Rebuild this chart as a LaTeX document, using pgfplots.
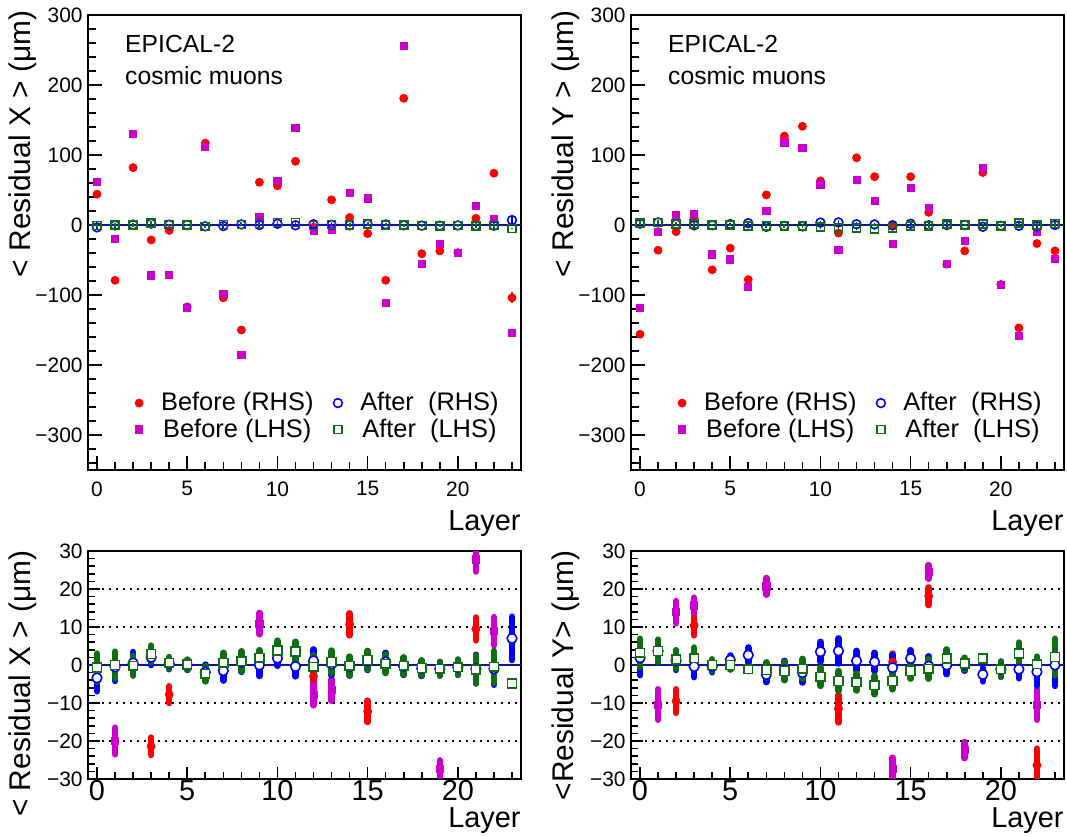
\documentclass[border=0pt]{standalone}
\usepackage{fontspec}
\setmainfont{Liberation Sans}
\usepackage{pgfplots}
\usepackage{pgfplotstable}
\pgfplotsset{compat=1.18}

\definecolor{rred}{RGB}{255,0,0}
\definecolor{mmag}{RGB}{204,0,204}
\definecolor{bblue}{RGB}{0,0,255}
\definecolor{ggreen}{RGB}{15,110,15}
\definecolor{navy}{RGB}{20,20,140}

% L = layer, bR/bL = before (RHS/LHS), aR/aL = after, e* = errors
\pgfplotstableread{
L   bR     ebR  bL     ebL  aR    eaR  aL    eaL
0   44     3    62     3    -3.4  3.5  -0.7  3.7
1   -79    3    -20    3.5  -0.5  3.7  0.0   3.5
2   82     3    130    3    0.5   2.9  -0.2  2.6
3   -21.4  2.3  -72    3    2.0   2.0  2.9   2.2
4   -7.8   2.2  -71    3    0.4   1.5  0.6   1.5
5   -117   3    -118   3    0.0   1.3  0.1   1.3
6   117    3    112    3    -1.9  2.0  -2.3  2.0
7   -104   3    -98    3    -1.5  2.6  0.6   2.6
8   -150   3    -186   3    0.8   2.6  1.0   2.6
9   61     3    10.9   2.8  0.0   2.9  1.9   2.0
10  56     3    63     3    1.8   2.0  3.8   2.6
11  91     3    139    3    -0.4  2.6  3.5   2.6
12  -3     2.5  -7.8   2.8  1.1   3.0  -0.5  3.0
13  36     3    -6.6   2.8  0.3   3.0  0.8   3.0
14  10.7   2.9  46     3    -0.4  2.4  -0.2  2.4
15  -12.2  2.8  38     3    1.1   2.4  1.3   2.4
16  -79    3    -111   3    0.8   2.4  0.3   2.4
17  181    3    256    3    -0.4  2.2  -0.2  2.2
18  -41    3    -55    3    -0.9  2.0  -0.8  2.0
19  -37    3    -27.3  2.2  -1.0  1.8  -1.0  1.8
20  -39.5  3    -39.5  3    -0.6  2.0  -0.6  2.0
21  9.5    3.0  27.8   3.2  -1.0  3.7  -1.2  3.7
22  74     3    8.9    3.7  -1.0  4.2  -0.5  4.2
23  -104   8    -154   3    7.0   5.7  -4.9  0.3
}\dataX

\pgfplotstableread{
L   bR     ebR  bL     ebL  aR    eaR  aL    eaL
0   -156   3    -118   3    1.9   4.6  3.2   3.7
1   -36    3    -10.4  4    3.7   2.9  3.7   2.9
2   -9.5   3.1  13.9   2.9  1.1   2.4  1.5   2.4
3   10.4   2.6  15.7   2.0  -0.4  2.8  1.8   2.8
4   -64    3    -42    3    -0.4  1.5  0.0   1.5
5   -33    2    -49    3    1.3   1.2  0.0   1.2
6   -78    3    -88    3    2.6   2.0  -1.1  0.5
7   43     3    20.7   2.2  -2.5  2.0  -1.3  2.0
8   127    3    118    3    -1.3  2.4  -1.6  2.4
9   141    3    110    3    -2.0  2.6  -1.0  2.6
10  63     3    58     3    3.5   2.6  -3.1  2.4
11  -11.5  3.6  -36    3    3.7   3.3  -4.2  2.6
12  96     3    64     3    1.1   2.6  -4.5  2.2
13  69     3    35     3    0.8   2.4  -5.3  2.4
14  0.8    2.2  -27.3  2.9  -0.7  3.3  -4.2  2.2
15  69     3    53     3    1.7   2.2  -1.6  2.0
16  18.1   2.3  24.5   1.8  -0.3  2.6  -1.0  2.6
17  -56    3    -56    3    0.0   2.4  1.7   2.4
18  -37    3    -22.4  2.1  0.0   1.5  0.4   1.5
19  75     3    81     3    -2.5  1.8  1.7   0.3
20  -85    3    -85    3    -1.1  2.0  -1.1  2.0
21  -147   3    -158   3    -1.1  2.4  3.0   2.9
22  -26.4  4.4  -10.4  4    -1.8  3.7  0.2   2.0
23  -37    3    -48    3    0.0   5.5  2.1   4.8
}\dataY

\pgfplotsset{
  resax/.style={
    scale only axis, width=216.5bp,
    xmin=-0.5, xmax=23.5,
    axis line style={line width=1.1bp},
    tick align=inside, xtick pos=left, ytick pos=left,
    tick style={black, line width=0.8bp},
    xtick={0,5,10,15,20}, xticklabels={0,5,10,15,20},
    minor xtick={0,...,23},
    yticklabel style={inner sep=0pt, xshift=-2.5bp, font=\fontsize{10.5}{12}\selectfont},
    xlabel={Layer},
    xlabel style={inner sep=0pt, anchor=north east, font=\fontsize{14.5}{16}\selectfont},
    ylabel style={inner sep=0pt, anchor=east, font=\fontsize{15}{17}\selectfont},
  },
  topax/.style={
    resax, height=227.5bp,
    ymin=-350, ymax=300,
    ytick={-300,-200,...,300},
    yticklabels={−300,−200,−100,0,100,200,300},
    minor ytick={-340,-320,...,300},
    major tick length=7bp, minor tick length=3.8bp,
    xticklabel style={inner sep=0pt, yshift=-5.5bp, font=\fontsize{10.5}{12}\selectfont},
    xlabel style={at={(axis description cs:1,-0.088)}},
    ylabel style={at={(axis description cs:-0.150,1.01)}},
    legend columns=2, transpose legend,
    legend style={draw=none, fill=none, at={(0.094,0.189)}, anchor=north west,
      font=\fontsize{12.75}{13}\selectfont, row sep=-1.5bp,
      /tikz/every odd column/.append style={column sep=7bp},
      /tikz/every even column/.append style={column sep=8bp}},
  },
  botax/.style={
    resax, height=114bp,
    ymin=-30, ymax=30,
    ytick={-30,-20,...,30},
    yticklabels={−30,−20,−10,0,10,20,30},
    minor ytick={-30,-28,...,30},
    major tick length=6bp, minor tick length=3.3bp,
    ymajorgrids, grid style={black, line width=0.9bp, dash pattern=on 0.9bp off 2.6bp},
    xticklabel style={inner sep=0pt, yshift=-0.5bp, font=\fontsize{14.5}{16}\selectfont},
    xlabel style={at={(axis description cs:1,-0.123)}},
    ylabel style={at={(axis description cs:-0.150,1.004)}},
  },
  thinerr/.style={error bars/.cd, y dir=both, y explicit, error mark=none,
    error bar style={line width=0.9bp, #1}},
  thickerr/.style={error bars/.cd, y dir=both, y explicit, error mark=none,
    error bar style={line width=3.3bp, line cap=round, #1}},
}

\newcommand{\toppanel}[1]{%
  \addplot[navy, line width=1bp, forget plot] coordinates {(-0.5,0) (23.5,0)};
  \addplot[only marks, rred, mark=*, mark size=2bp, thinerr=rred]
    table[x=L, y=bR, y error=ebR] {#1};
  \addlegendentry{Before (RHS)}
  \addplot[only marks, mmag, mark=square*, mark size=1.8bp, thinerr=mmag]
    table[x=L, y=bL, y error=ebL] {#1};
  \addlegendentry{Before (LHS)}
  \addplot[only marks, bblue, mark=o, mark size=2.2bp, mark options={line width=0.8bp}, thinerr=bblue]
    table[x=L, y=aR, y error=eaR] {#1};
  \addlegendentry{After\ \ (RHS)}
  \addplot[only marks, ggreen, mark=square, mark size=2bp, mark options={line width=0.8bp}, thinerr=ggreen]
    table[x=L, y=aL, y error=eaL] {#1};
  \addlegendentry{After\ \ (LHS)}
  \node[anchor=base west, inner sep=0pt, font=\fontsize{12.4}{14}\selectfont]
    at (rel axis cs:0.085,0.9165) {EPICAL-2};
  \node[anchor=base west, inner sep=0pt, font=\fontsize{12.4}{14}\selectfont]
    at (rel axis cs:0.085,0.848) {cosmic muons};
}

\newcommand{\botpanel}[1]{%
  \addplot[navy, line width=1bp] coordinates {(-0.5,0) (23.5,0)};
  \addplot[only marks, rred, mark=*, mark size=2bp, thickerr=rred]
    table[x=L, y=bR, y error=ebR] {#1};
  \addplot[only marks, mmag, mark=square*, mark size=1.8bp, thickerr=mmag]
    table[x=L, y=bL, y error=ebL] {#1};
  \addplot[only marks, bblue, mark=*, mark size=2.4bp, mark options={fill=white, draw=bblue, line width=0.8bp}, thickerr=bblue]
    table[x=L, y=aR, y error=eaR] {#1};
  \addplot[only marks, ggreen, mark=square*, mark size=2.2bp, mark options={fill=white, draw=ggreen, line width=0.8bp}, thickerr=ggreen]
    table[x=L, y=aL, y error=eaL] {#1};
}

\begin{document}
\begin{tikzpicture}
\useasboundingbox (0,0) rectangle (533.5bp,418bp);

\begin{axis}[topax, at={(44bp,183bp)}, anchor=south west,
  ylabel={< Residual X > (μm)}]
  \toppanel{\dataX}
\end{axis}

\begin{axis}[topax, at={(315.5bp,183bp)}, anchor=south west,
  ylabel={< Residual Y > (μm)}]
  \toppanel{\dataY}
\end{axis}

\begin{axis}[botax, at={(44bp,28.5bp)}, anchor=south west,
  ylabel={< Residual X > (μm)}]
  \botpanel{\dataX}
\end{axis}

\begin{axis}[botax, at={(315.5bp,28.5bp)}, anchor=south west,
  ylabel={<Residual Y> (μm)}]
  \botpanel{\dataY}
\end{axis}
\end{tikzpicture}
\end{document}
